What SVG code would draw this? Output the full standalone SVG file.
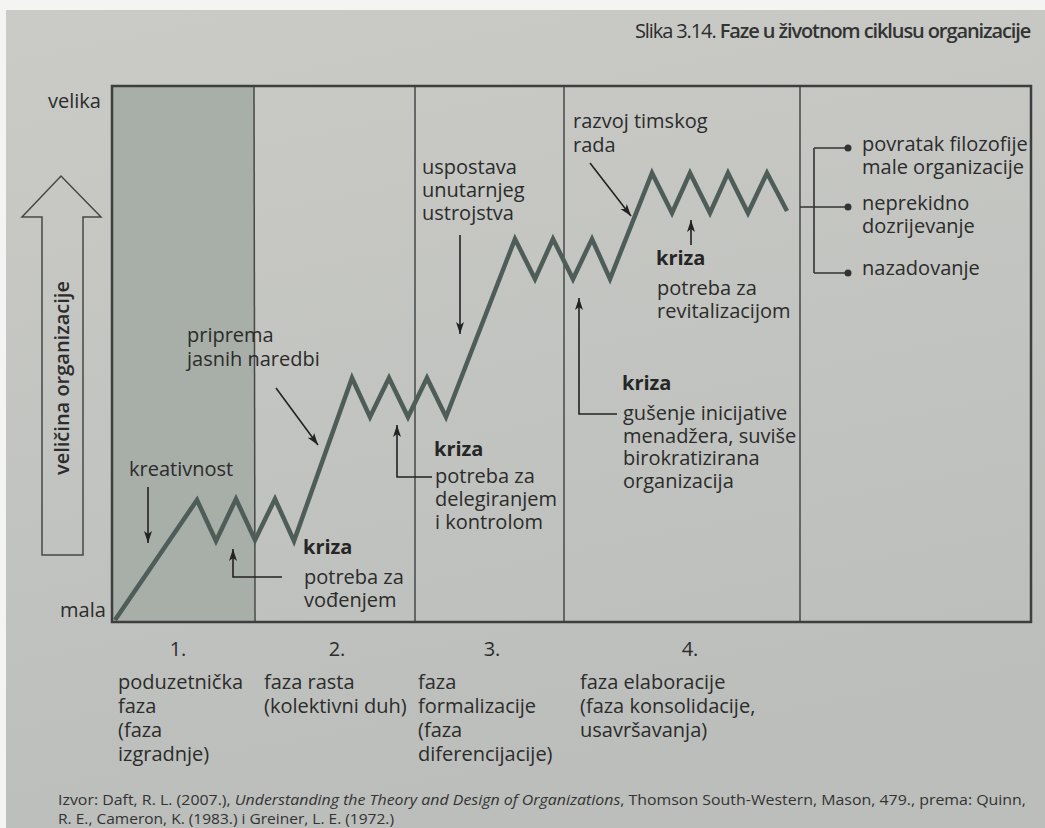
<svg xmlns="http://www.w3.org/2000/svg" width="1045" height="828" viewBox="0 0 1045 828">
<defs>
<linearGradient id="paper" x1="0" y1="0" x2="0.25" y2="1">
<stop offset="0" stop-color="#cacbc7"/>
<stop offset="1" stop-color="#bcbebb"/>
</linearGradient>
<marker id="ah" viewBox="0 0 12 10" refX="12" refY="5" markerWidth="12" markerHeight="10" markerUnits="userSpaceOnUse" orient="auto">
<path d="M0,1 L12,5 L0,9 L3,5 Z" fill="#222"/>
</marker>
<style>
text{font-family:"Open Sans","Liberation Sans",sans-serif;fill:#2b2c2b;font-size:20px}
.b{font-weight:700;fill:#252625}
.frame{fill:none;stroke:#3c3f3d;stroke-width:2.5}
.div{stroke:#454947;stroke-width:1.5}
.curve{fill:none;stroke:#4e5d58;stroke-width:4.5;stroke-linejoin:miter}
.arr{fill:none;stroke:#222;stroke-width:1.6;marker-end:url(#ah)}
.br{fill:none;stroke:#333;stroke-width:1.6}
.foot{font-size:15px;fill:#333}
</style>
</defs>
<rect x="0" y="0" width="1045" height="828" fill="#f4f4f2"/>
<rect x="6" y="10" width="1039" height="818" fill="url(#paper)"/>

<g id="title">
<text x="635" y="38" font-size="17" fill="#555" letter-spacing="-1.1">Slika 3.14. <tspan font-weight="600" fill="#333">Faze u životnom ciklusu organizacije</tspan></text>
</g>

<g id="chart">
<rect x="112" y="86" width="142" height="536" fill="#a8aea8"/>
<line class="div" x1="254" y1="86" x2="255" y2="622"/>
<line class="div" x1="415" y1="86" x2="415" y2="622"/>
<line class="div" x1="564" y1="86" x2="564" y2="622"/>
<line class="div" x1="800" y1="86" x2="800" y2="622"/>
<rect class="frame" x="112" y="86" width="919" height="536"/>
</g>

<g id="axis">
<polygon points="42,555 83,555 83,217 101,217 61,176 22,217 42,217" fill="none" stroke="#454846" stroke-width="1.5"/>
<text x="69" y="378" transform="rotate(-90 69 378)" text-anchor="middle" font-weight="600" font-size="20">veličina organizacije</text>
<text x="48" y="108">velika</text>
<text x="60" y="617">mala</text>
</g>

<g id="curve">
<polyline class="curve" points="115,620 197,500 216,541 236,499 255,540 275,499 294,541 352,378 370,417 389,378 408,417 427,378 446,417 515,239 535,279 553,239 573,279 592,239 610,279 652,173 672,213 690,173 710,213 728,173 748,213 767,173 787,211"/>
</g>

<g id="connectors">
<path class="arr" d="M148,487 V543"/>
<path class="arr" d="M282,577 H233 V549"/>
<path class="arr" d="M276,388 L318,445"/>
<path class="arr" d="M432,477 H397 V425"/>
<path class="arr" d="M460,235 V334"/>
<path class="arr" d="M617,414 H579 V298"/>
<path class="arr" d="M590,163 L631,216"/>
<path class="arr" d="M691,245 V220"/>
<path class="br" d="M800,207 H848 M814,148 V273 M814,148 H848 M814,273 H848"/>
<circle cx="848" cy="148" r="3.5" fill="#333"/>
<circle cx="848" cy="207" r="3.5" fill="#333"/>
<circle cx="848" cy="273" r="3.5" fill="#333"/>
</g>

<g id="n-kreativnost"><text x="129" y="476">kreativnost</text></g>
<g id="n-kriza1">
<text class="b" x="303" y="554">kriza</text>
<text x="304" y="584">potreba za</text>
<text x="304" y="607">vođenjem</text>
</g>
<g id="n-priprema">
<text x="187" y="342">priprema</text>
<text x="187" y="366">jasnih naredbi</text>
</g>
<g id="n-kriza2">
<text class="b" x="434" y="456">kriza</text>
<text x="435" y="483">potreba za</text>
<text x="435" y="506">delegiranjem</text>
<text x="435" y="529">i kontrolom</text>
</g>
<g id="n-uspostava">
<text x="422" y="174">uspostava</text>
<text x="422" y="197">unutarnjeg</text>
<text x="422" y="220">ustrojstva</text>
</g>
<g id="n-kriza3">
<text class="b" x="622" y="390">kriza</text>
<text x="623" y="420">gušenje inicijative</text>
<text x="623" y="443">menadžera, suviše</text>
<text x="623" y="465">birokratizirana</text>
<text x="623" y="488">organizacija</text>
</g>
<g id="n-razvoj">
<text x="573" y="128">razvoj timskog</text>
<text x="573" y="152">rada</text>
</g>
<g id="n-kriza4">
<text class="b" x="656" y="265">kriza</text>
<text x="657" y="295">potreba za</text>
<text x="657" y="318">revitalizacijom</text>
</g>
<g id="n-outcomes">
<text x="862" y="151">povratak filozofije</text>
<text x="862" y="174">male organizacije</text>
<text x="862" y="210">neprekidno</text>
<text x="862" y="233">dozrijevanje</text>
<text x="862" y="275">nazadovanje</text>
</g>

<g id="n-phase1">
<text x="178" y="656" text-anchor="middle">1.</text>
<text x="118" y="689">poduzetnička</text>
<text x="118" y="713">faza</text>
<text x="118" y="737">(faza</text>
<text x="118" y="761">izgradnje)</text>
</g>
<g id="n-phase2">
<text x="337" y="656" text-anchor="middle">2.</text>
<text x="264" y="689">faza rasta</text>
<text x="264" y="713">(kolektivni duh)</text>
</g>
<g id="n-phase3">
<text x="492" y="656" text-anchor="middle">3.</text>
<text x="418" y="689">faza</text>
<text x="418" y="713">formalizacije</text>
<text x="418" y="737">(faza</text>
<text x="418" y="761">diferencijacije)</text>
</g>
<g id="n-phase4">
<text x="690" y="656" text-anchor="middle">4.</text>
<text x="580" y="689">faza elaboracije</text>
<text x="580" y="713">(faza konsolidacije,</text>
<text x="580" y="737">usavršavanja)</text>
</g>

<g id="footer">
<text class="foot" x="58" y="805" textLength="968" lengthAdjust="spacingAndGlyphs">Izvor: Daft, R. L. (2007.), <tspan font-style="italic">Understanding the Theory and Design of Organizations</tspan>, Thomson South-Western, Mason, 479., prema: Quinn,</text>
<text class="foot" x="58" y="824" textLength="336" lengthAdjust="spacingAndGlyphs">R. E., Cameron, K. (1983.) i Greiner, L. E. (1972.)</text>
</g>
</svg>
